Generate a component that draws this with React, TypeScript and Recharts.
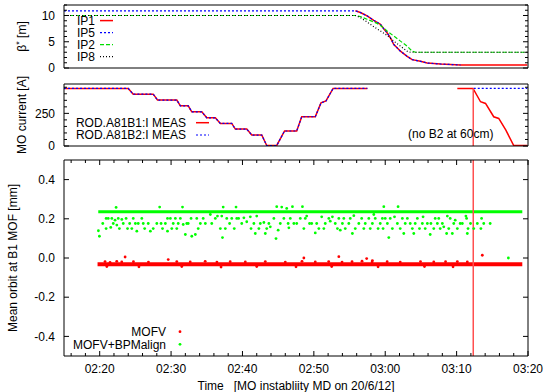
import React from 'react';
import { ComposedChart, Line, Scatter, XAxis, YAxis, ReferenceLine, Legend } from 'recharts';

type P = [number, number | null];

const FONT = '"Liberation Sans", Arial, Helvetica, sans-serif';
const FS = 12;

// ---------- x axis (minutes after 02:00) ----------
const X_DOMAIN: [number, number] = [15, 80];
const X_TICKS = [16, 18, 20, 22, 24, 26, 28, 30, 32, 34, 36, 38, 40, 42, 44, 46, 48, 50, 52, 54, 56, 58, 60, 62, 64, 66, 68, 70, 72, 74, 76, 78, 80];
const X_MAJOR = [20, 30, 40, 50, 60, 70, 80];
const X_LABELS = ['02:20', '02:30', '02:40', '02:50', '03:00', '03:10', '03:20'];
const X_TITLE = 'Time   [MO instabliity MD on 20/6/12]';
const MARKER_T = 72.33;

// ---------- panel 1 : beta* ----------
const BETA_DOMAIN: [number, number] = [0, 12];
const BETA_TICKS = [0, 1, 2, 3, 4, 5, 6, 7, 8, 9, 10, 11, 12];
const BETA_MAJOR = [0, 5, 10];
const IP1: P[] = [
  [55.82, 10.9], [56.52, 10.57], [57.46, 9.93], [58.39, 9.09], [59.33, 8.32], [59.79, 7.49], [60.26, 6.72],
  [60.73, 5.76], [61.2, 4.48], [61.66, 3.84], [62.13, 3.2], [63.07, 2.23], [63.77, 1.59], [64.94, 1.27],
  [65.87, 0.95], [67.74, 0.76], [70.55, 0.57], [79.9, 0.57],
];
const IP5: P[] = [
  [15, 10.9], [55.82, 10.9], [56.52, 10.57], [57.46, 9.93], [58.39, 9.09], [59.33, 8.32], [59.79, 7.49], [60.26, 6.72],
  [60.73, 5.76], [61.2, 4.48], [61.66, 3.84], [62.13, 3.2], [63.07, 2.23], [63.77, 1.59], [64.94, 1.27],
  [65.87, 0.95], [67.74, 0.76], [70.55, 0.57],
];
const IP2: P[] = [
  [15, 10], [55.82, 10], [56.52, 9.8], [57.46, 9.28], [58.86, 8.5], [59.56, 7.87], [60.26, 7.04], [61.2, 6.08],
  [62.13, 5.12], [63.07, 4.16], [63.77, 3.2], [64.24, 3.0], [79.9, 3.0],
];
const IP8: P[] = [
  [15, 10], [55.82, 10], [56.52, 9.6], [57.46, 8.77], [58.39, 7.87], [59.33, 7.04], [60.26, 6.21], [61.2, 5.12],
  [62.13, 4.16], [63.07, 3.2], [63.54, 3.0], [79.9, 3.0],
];
const BETA_KEY_LABELS = ['IP1', 'IP5', 'IP2', 'IP8'];
const BETA_KEY_COLORS = ['#ff0000', '#0000ff', '#00dd00', '#000000'];
const BETA_KEY_DASH = ['', '2 2', '4 2', '1 2'];

// ---------- panel 2 : MO current ----------
const CUR_DOMAIN: [number, number] = [0, 475];
const CUR_TICKS = [0, 50, 100, 150, 200, 250, 300, 350, 400, 450];
const CUR_MAJOR = [0, 250];
const B1: P[] = [
  [15, 441], [24.0, 441], [24.7, 397], [27.5, 397], [28.1, 352], [30.8, 352], [31.3, 308], [32.4, 308],
  [32.9, 262], [34.3, 262], [35.0, 216], [36.2, 216], [36.9, 173], [38.5, 173], [39.0, 130], [40.6, 130],
  [41.3, 84], [42.7, 84], [43.4, 4], [44.8, 4], [45.9, 115], [47.6, 115], [48.3, 224], [50.2, 224],
  [51.0, 330], [51.7, 345], [52.7, 441], [57.5, 441], [63, null], [70.1, 441], [72.3, 441], [73.35, 339],
  [74.05, 326], [75.2, 224], [75.9, 211], [76.9, 122], [78.0, 3], [79.9, 3],
];
const B2: P[] = [
  [15, 441], [24.0, 441], [24.7, 397], [27.5, 397], [28.1, 352], [30.8, 352], [31.3, 308], [32.4, 308],
  [32.9, 262], [34.3, 262], [35.0, 216], [36.2, 216], [36.9, 173], [38.5, 173], [39.0, 130], [40.6, 130],
  [41.3, 84], [42.7, 84], [43.4, 4], [44.8, 4], [45.9, 115], [47.6, 115], [48.3, 224], [50.2, 224],
  [51.0, 330], [51.7, 345], [52.7, 441], [57.5, 441], [63, null], [72.4, 441], [79.9, 441],
];
const CUR_KEY_LABELS = ['ROD.A81B1:I MEAS', 'ROD.A81B2:I MEAS'];
const CUR_NOTE = '(no B2 at 60cm)';

// ---------- panel 3 : mean orbit ----------
const ORB_DOMAIN: [number, number] = [-0.5, 0.5];
const ORB_TICKS = [-0.4, -0.2, 0, 0.2, 0.4];
const GREEN_BAND: P[] = [[19.8, 0.236], [79.2, 0.236]];
const RED_BAND: P[] = [[19.7, -0.032], [79.2, -0.032]];
const GREEN_PTS: P[] = [
  [19.82, 0.139], [19.96, 0.111], [22.3, 0.258], [20.43, 0.176], [20.9, 0.202], [20.9, 0.15], [21.2, 0.202],
  [21.55, 0.156], [21.7, 0.202], [21.9, 0.176], [22.15, 0.193], [22.4, 0.168], [22.6, 0.202], [22.76, 0.15],
  [23.1, 0.197], [23.3, 0.176], [23.7, 0.202], [23.9, 0.15], [24.2, 0.176], [24.5, 0.15], [24.7, 0.202],
  [25.0, 0.176], [25.2, 0.137], [25.4, 0.176], [25.9, 0.202], [26.1, 0.176], [26.3, 0.15], [26.8, 0.176],
  [27.1, 0.137], [27.5, 0.15], [28.0, 0.176], [28.4, 0.26], [28.6, 0.176], [28.8, 0.15], [29.2, 0.176],
  [29.5, 0.202], [29.5, 0.137], [29.9, 0.202], [30.1, 0.15], [30.3, 0.176], [30.6, 0.202], [30.8, 0.15],
  [31.0, 0.176], [31.3, 0.202], [31.6, 0.26], [31.7, 0.171], [32.0, 0.12], [32.2, 0.176], [32.4, 0.176],
  [32.8, 0.202], [32.9, 0.111], [33.4, 0.12], [33.6, 0.202], [33.8, 0.15], [34.1, 0.176], [34.5, 0.202],
  [34.8, 0.176], [35.5, 0.222], [35.7, 0.176], [36.2, 0.202], [36.5, 0.214], [36.9, 0.15], [37.1, 0.214],
  [37.2, 0.104], [37.3, 0.26], [37.6, 0.15], [37.8, 0.202], [38.2, 0.176], [38.5, 0.202], [38.85, 0.15],
  [39.1, 0.26], [39.2, 0.202], [39.46, 0.202], [39.9, 0.176], [40.2, 0.205], [40.6, 0.185], [41.1, 0.21],
  [41.2, 0.15], [41.6, 0.176], [41.8, 0.125], [42.0, 0.214], [42.3, 0.15], [42.5, 0.176], [43.0, 0.181],
  [43.2, 0.125], [43.4, 0.15], [43.7, 0.176], [43.9, 0.159], [44.4, 0.202], [44.7, 0.099], [44.8, 0.262],
  [45.0, 0.142], [45.3, 0.176], [45.5, 0.26], [45.8, 0.202], [46.2, 0.253], [46.4, 0.176], [46.5, 0.154],
  [46.7, 0.202], [47.0, 0.262], [47.2, 0.176], [47.6, 0.176], [48.1, 0.202], [48.4, 0.262], [48.6, 0.15],
  [48.8, 0.202], [49.0, 0.214], [49.4, 0.176], [49.7, 0.176], [50.2, 0.128], [50.4, 0.176], [50.7, 0.15],
  [51.1, 0.21], [51.4, 0.15], [51.6, 0.176], [52.1, 0.202], [52.3, 0.188], [52.6, 0.21], [53.0, 0.176],
  [53.3, 0.15], [53.5, 0.202], [53.7, 0.142], [54.0, 0.176], [54.2, 0.202], [54.4, 0.15], [54.9, 0.176],
  [55.1, 0.202], [55.4, 0.125], [55.6, 0.216], [55.8, 0.15], [56.3, 0.176], [56.7, 0.202], [57.0, 0.15],
  [57.2, 0.176], [57.7, 0.202], [57.9, 0.15], [58.2, 0.176], [58.4, 0.222], [58.6, 0.202], [59.0, 0.15],
  [59.3, 0.176], [59.6, 0.202], [59.8, 0.262], [59.7, 0.15], [60.0, 0.202], [60.3, 0.176], [60.5, 0.104],
  [60.7, 0.202], [61.0, 0.15], [61.3, 0.21], [61.7, 0.176], [61.8, 0.262], [62.1, 0.15], [62.4, 0.202],
  [62.6, 0.125], [62.8, 0.176], [63.1, 0.202], [63.5, 0.176], [63.8, 0.15], [64.0, 0.125], [64.2, 0.176],
  [64.5, 0.202], [64.8, 0.15], [65.2, 0.176], [65.3, 0.21], [65.6, 0.15], [65.9, 0.176], [66.3, 0.12],
  [66.4, 0.176], [66.8, 0.15], [67.0, 0.202], [67.3, 0.176], [67.5, 0.202], [67.7, 0.15], [68.0, 0.176],
  [68.2, 0.159], [68.6, 0.125], [68.7, 0.214], [68.9, 0.15], [69.1, 0.202], [69.4, 0.125], [69.6, 0.176],
  [69.8, 0.193], [70.1, 0.15], [70.5, 0.176], [70.8, 0.176], [71.3, 0.214], [71.4, 0.202], [71.5, 0.125],
  [71.6, 0.15], [71.95, 0.176], [72.4, 0.15], [72.9, 0.176], [73.4, 0.15], [73.5, 0.202], [73.8, 0.176],
  [74.7, 0.176], [77.25, 0.0],
];
const RED_PTS: P[] = [
  [23.56, 0.005], [29.6, -0.008], [48.6, 0.0], [53.5, 0.007], [57.4, -0.003], [58.2, -0.013], [73.6, 0.014],
  [20.75, -0.018], [21.45, -0.022], [22.39, -0.017], [23.09, -0.02], [24.73, -0.019], [26.83, -0.021],
  [30.8, -0.018], [32.68, -0.02], [34.78, -0.017], [36.42, -0.021], [38.28, -0.019], [40.4, -0.02],
  [43.2, -0.018], [46.0, -0.021], [48.34, -0.017], [50.2, -0.02], [52.08, -0.018], [53.95, -0.021],
  [55.35, -0.019], [56.75, -0.016], [58.16, -0.02], [60.27, -0.019], [62.1, -0.021], [64.94, -0.018],
  [66.8, -0.02], [68.45, -0.019], [70.1, -0.018], [71.5, -0.02], [21.0, -0.044], [25.5, -0.045],
  [31.5, -0.044], [37.0, -0.046], [42.0, -0.044], [47.5, -0.045], [52.5, -0.044], [59.0, -0.045],
  [65.5, -0.044], [69.5, -0.045],
];
const ORB_KEY_LABELS = ['MOFV', 'MOFV+BPMalign'];

const rows = (pts: P[]) => pts.map(([t, v]) => ({ t, v }));

// ---------- tick renderers ----------
function makeYTick(side: 'left' | 'right', majors: number[], fmt?: (v: number) => string) {
  return (props: any) => {
    const { x, y, payload } = props;
    const v = payload.value as number;
    const major = majors.some((m) => Math.abs(m - v) < 1e-9);
    const len = major ? 5 : 3;
    const d = side === 'left' ? 1 : -1;
    return (
      <g>
        <line x1={x} y1={y} x2={x + d * len} y2={y} stroke="#000" strokeWidth={1} />
        {fmt && major ? (
          <text x={x - 9} y={y + 4.2} textAnchor="end" fontFamily={FONT} fontSize={FS} fill="#000">
            {fmt(v)}
          </text>
        ) : null}
      </g>
    );
  };
}

function makeXTick(side: 'bottom' | 'top', withLabels: boolean) {
  return (props: any) => {
    const { x, y, payload } = props;
    const v = payload.value as number;
    const idx = X_MAJOR.indexOf(v);
    const major = idx >= 0;
    const len = major ? 5 : 3;
    const d = side === 'bottom' ? -1 : 1;
    return (
      <g>
        <line x1={x} y1={y} x2={x} y2={y + d * len} stroke="#000" strokeWidth={1} />
        {withLabels && major ? (
          <text x={x} y={y + 16.5} textAnchor="middle" fontFamily={FONT} fontSize={FS} fill="#000">
            {X_LABELS[idx]}
          </text>
        ) : null}
      </g>
    );
  };
}

function yTitle(content: React.ReactNode, baseX: number) {
  return (props: any) => {
    const vb = props.viewBox || {};
    const cy = (vb.y || 0) + (vb.height || 0) / 2;
    return (
      <text transform={`translate(${baseX},${cy}) rotate(-90)`} textAnchor="middle" fontFamily={FONT} fontSize={FS} fill="#000">
        {content}
      </text>
    );
  };
}

const txt = { fontFamily: FONT, fontSize: FS, fill: '#000' } as const;

function BetaKey() {
  return (
    <svg width={544} height={80} style={{ position: 'absolute', left: 0, top: 0 }}>
      {BETA_KEY_LABELS.map((lab, i) => {
        const cy = 20.6 + i * 12;
        return (
          <g key={lab}>
            <text x={95} y={cy + 4.2} textAnchor="end" {...txt}>{lab}</text>
            <line x1={100} y1={cy} x2={113} y2={cy} stroke={BETA_KEY_COLORS[i]} strokeWidth={i === 0 ? 1.5 : 1.2} strokeDasharray={BETA_KEY_DASH[i] || undefined} />
          </g>
        );
      })}
    </svg>
  );
}

function CurKey() {
  const colors = ['#ff0000', '#0000ff'];
  const dash = ['', '2 2'];
  return (
    <svg width={544} height={80} style={{ position: 'absolute', left: 0, top: 0 }}>
      {CUR_KEY_LABELS.map((lab, i) => {
        const cy = 48.7 + i * 12.3;
        return (
          <g key={lab}>
            <text x={186} y={cy + 4.2} textAnchor="end" {...txt}>{lab}</text>
            <line x1={196} y1={cy} x2={209} y2={cy} stroke={colors[i]} strokeWidth={i === 0 ? 1.5 : 1.2} strokeDasharray={dash[i] || undefined} />
          </g>
        );
      })}
      <text x={408} y={59.7 + 4.2} {...txt}>{CUR_NOTE}</text>
    </svg>
  );
}

function OrbKey() {
  const colors = ['#ff0000', '#00ff00'];
  return (
    <svg width={544} height={242} style={{ position: 'absolute', left: 0, top: 0 }}>
      {ORB_KEY_LABELS.map((lab, i) => {
        const cy = 181.7 + i * 12.6;
        return (
          <g key={lab}>
            <text x={166} y={cy + 4.2} textAnchor="end" {...txt}>{lab}</text>
            <circle cx={180} cy={cy} r={1.4} fill={colors[i]} />
          </g>
        );
      })}
    </svg>
  );
}

const dot = (color: string, r: number) => (props: any) => <circle cx={props.cx} cy={props.cy} r={r} fill={color} />;

const axisLine = { stroke: '#000', strokeWidth: 1 };

function frameAxes(
  h: { top: number; bottom: number },
  yDomain: [number, number],
  yTicks: number[],
  yMajor: number[],
  fmt: (v: number) => string,
  title: (p: any) => React.ReactNode,
  xTicks: boolean,
  xTitle?: (p: any) => React.ReactNode,
) {
  return [
    <XAxis key="xb" xAxisId="b" type="number" dataKey="t" domain={X_DOMAIN} allowDataOverflow orientation="bottom" height={h.bottom}
      ticks={xTicks ? X_TICKS : undefined} interval={0} tick={xTicks ? makeXTick('bottom', true) : false} tickLine={false}
      tickSize={0} tickMargin={0} axisLine={axisLine} label={xTitle} />,
    <XAxis key="xt" xAxisId="t" type="number" dataKey="t" domain={X_DOMAIN} allowDataOverflow orientation="top" height={h.top}
      ticks={xTicks ? X_TICKS : undefined} interval={0} tick={xTicks ? makeXTick('top', false) : false} tickLine={false}
      tickSize={0} tickMargin={0} axisLine={axisLine} />,
    <YAxis key="yl" yAxisId="l" type="number" dataKey="v" domain={yDomain} allowDataOverflow orientation="left" width={60}
      ticks={yTicks} interval={0} tick={makeYTick('left', yMajor, fmt)} tickLine={false} tickSize={0} tickMargin={0}
      axisLine={axisLine} label={title} />,
    <YAxis key="yr" yAxisId="r" type="number" dataKey="v" domain={yDomain} allowDataOverflow orientation="right" width={10}
      ticks={yTicks} interval={0} tick={makeYTick('right', yMajor)} tickLine={false} tickSize={0} tickMargin={0}
      axisLine={axisLine} />,
  ];
}

const xTitle = (props: any) => (
  <text x={296} y={240} textAnchor="middle" fontFamily={FONT} fontSize={FS} fill="#000" style={{ whiteSpace: 'pre' }}>
    {X_TITLE}
  </text>
);

export default function App() {
  const ser = { xAxisId: 'b', yAxisId: 'l', isAnimationActive: false, dot: false, activeDot: false, dataKey: 'v', type: 'linear' as const };
  return (
    <div style={{ position: 'absolute', left: 0, top: 0, width: 544, height: 392, background: '#fff', overflow: 'hidden' }}>
      {/* panel 1 */}
      <div style={{ position: 'absolute', left: 0, top: 0 }}>
        <ComposedChart width={544} height={80} margin={{ top: 0, right: 6, bottom: 2, left: 4 }}>
          {frameAxes({ top: 5, bottom: 10 }, BETA_DOMAIN, BETA_TICKS, BETA_MAJOR, (v) => String(v),
            yTitle(<><tspan>β</tspan><tspan dy={-4} fontSize={9}>*</tspan><tspan dy={4}> [m]</tspan></>, 26), false)}
          <Line {...ser} data={rows(IP1)} stroke="#ff0000" strokeWidth={1.5} />
          <Line {...ser} data={rows(IP5)} stroke="#0000ff" strokeWidth={1.2} strokeDasharray="2 2" />
          <Line {...ser} data={rows(IP2)} stroke="#00dd00" strokeWidth={1.2} strokeDasharray="4 2" />
          <Line {...ser} data={rows(IP8)} stroke="#000000" strokeWidth={1.2} strokeDasharray="1 2" />
          <Legend layout="vertical" align="center" verticalAlign="middle"
            wrapperStyle={{ left: 0, top: 0, width: 544, height: 80, pointerEvents: 'none' }} content={() => <BetaKey />} />
        </ComposedChart>
      </div>
      {/* panel 2 */}
      <div style={{ position: 'absolute', left: 0, top: 74 }}>
        <ComposedChart width={544} height={80} margin={{ top: 5, right: 6, bottom: 2, left: 4 }}>
          {frameAxes({ top: 5, bottom: 6 }, CUR_DOMAIN, CUR_TICKS, CUR_MAJOR, (v) => String(v),
            yTitle('MO current [A]', 26), false)}
          <Line {...ser} data={rows(B1)} stroke="#ff0000" strokeWidth={1.5} />
          <Line {...ser} data={rows(B2)} stroke="#0000ff" strokeWidth={1.2} strokeDasharray="2 2" />
          <ReferenceLine xAxisId="b" yAxisId="l" segment={[{ x: MARKER_T, y: 0 }, { x: MARKER_T, y: 441 }]} stroke="#ff5050" strokeWidth={1.5} />
          <Legend layout="vertical" align="center" verticalAlign="middle"
            wrapperStyle={{ left: 0, top: 0, width: 544, height: 80, pointerEvents: 'none' }} content={() => <CurKey />} />
        </ComposedChart>
      </div>
      {/* panel 3 */}
      <div style={{ position: 'absolute', left: 0, top: 150 }}>
        <ComposedChart width={544} height={242} margin={{ top: 5, right: 6, bottom: 2, left: 4 }}>
          {frameAxes({ top: 5, bottom: 34 }, ORB_DOMAIN, ORB_TICKS, ORB_TICKS, (v) => v.toFixed(1),
            yTitle('Mean orbit at B1 MOF [mm]', 17), true, xTitle)}
          <Line {...ser} data={rows(GREEN_BAND)} stroke="#00ff00" strokeWidth={3} />
          <Line {...ser} data={rows(RED_BAND)} stroke="#ff0000" strokeWidth={4} />
          <Scatter xAxisId="b" yAxisId="l" dataKey="v" data={rows(GREEN_PTS)} isAnimationActive={false} shape={dot('#00ff00', 1.4)} />
          <Scatter xAxisId="b" yAxisId="l" dataKey="v" data={rows(RED_PTS)} isAnimationActive={false} shape={dot('#ff0000', 1.4)} />
          <ReferenceLine xAxisId="b" yAxisId="l" x={MARKER_T} stroke="#ff5050" strokeWidth={1.5} />
          <Legend layout="vertical" align="center" verticalAlign="middle"
            wrapperStyle={{ left: 0, top: 0, width: 544, height: 242, pointerEvents: 'none' }} content={() => <OrbKey />} />
        </ComposedChart>
      </div>
    </div>
  );
}
